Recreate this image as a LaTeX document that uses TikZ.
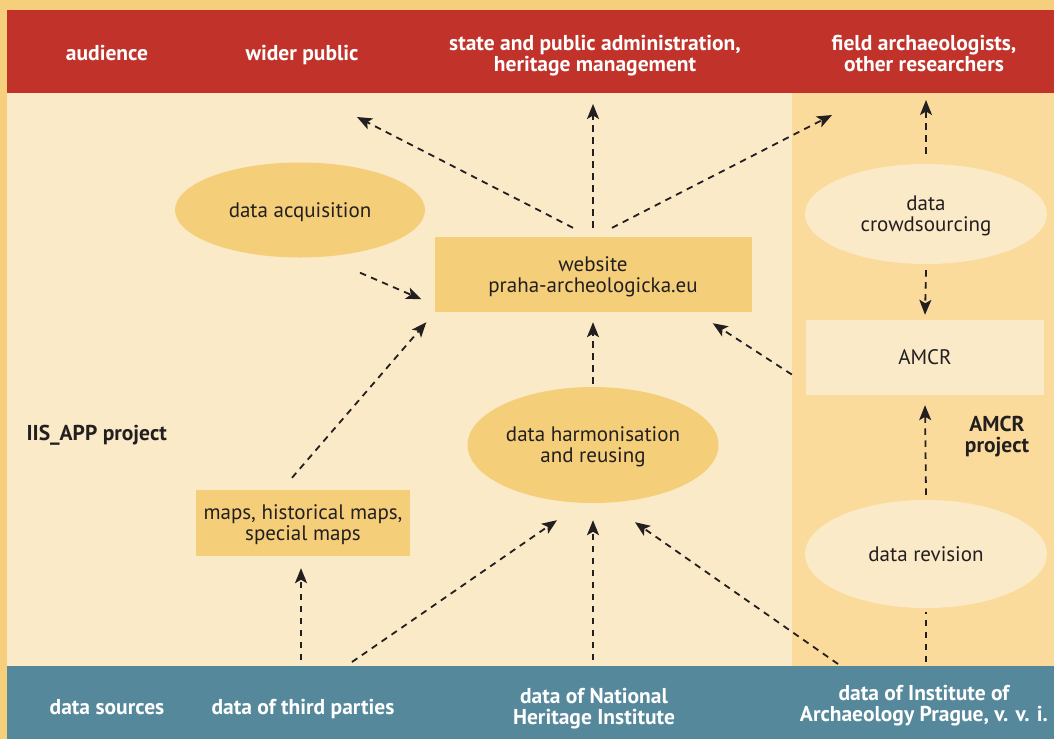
\documentclass[tikz,border=0pt]{standalone}
\usepackage{fontspec}
\setmainfont{PT Sans}
\usetikzlibrary{arrows.meta,shapes.geometric}

\definecolor{frameyellow}{HTML}{F5CF7C}
\definecolor{paper}{HTML}{FBEAC8}
\definecolor{amcrzone}{HTML}{FADB9C}
\definecolor{audred}{HTML}{C0322A}
\definecolor{srcblue}{HTML}{56889C}
\definecolor{nodeyellow}{HTML}{F4CE79}
\definecolor{ink}{HTML}{231F20}

\tikzset{
  bandtext/.style={text=white, align=center, text depth=0pt,
    font=\bfseries\fontsize{21.5}{21}\selectfont},
  projtext/.style={text=ink, align=center, font=\bfseries\fontsize{21.5}{21}\selectfont},
  blob/.style={ellipse, fill=nodeyellow, text=ink, align=center, inner sep=0pt,
    text depth=0pt, font=\fontsize{21}{21}\selectfont},
  tile/.style={rectangle, fill=nodeyellow, text=ink, align=center, inner sep=0pt,
    text depth=0pt, font=\fontsize{21}{21}\selectfont},
  flowline/.style={draw=ink, line width=1.8pt, dash pattern=on 6.5pt off 5.5pt},
  flow/.style={flowline, -{Stealth[length=15pt,width=12pt,inset=3.5pt]}}
}

\begin{document}
\begin{tikzpicture}[x=1pt,y=-1pt]
    \useasboundingbox (0,0) rectangle (1054,739);
    \fill[frameyellow] (0,0) rectangle (1054,739);
    \fill[paper] (7,10) rectangle (1054,739);
    \fill[amcrzone] (792,93) rectangle (1054,666);
    \fill[audred] (7,10) rectangle (1054,93);
    \fill[srcblue] (7,666) rectangle (1054,739);

    \node[bandtext] (aud) at (107,53) {audience};
    \node[bandtext] (pub) at (302,53) {wider public};
    \node[bandtext] (adm) at (595,53) {state and public administration,\\heritage management};
    \node[bandtext] (res) at (924,53) {field archaeologists,\\other researchers};
    \node[bandtext] (src) at (107,707) {data sources};
    \node[bandtext] (tp) at (303,707) {data of third parties};
    \node[bandtext] (nhi) at (594,706) {data of National\\Heritage Institute};
    \node[bandtext] (iap) at (924,703) {data of Institute of\\Archaeology Prague, v. v. i.};

    \node[projtext, anchor=west] (iis) at (23,435) {IIS\_APP project};
    \node[projtext] (amcrproj) at (997,437) {AMCR\\project};

    \node[blob, minimum width=250pt, minimum height=95pt] (acq) at (300,210) {data acquisition};
    \node[tile, minimum width=317pt, minimum height=75pt] (web) at (593,274.5) {website\\praha-archeologicka.eu};
    \node[blob, minimum width=251pt, minimum height=116pt] (harm) at (593,445) {data harmonisation\\and reusing};
    \node[tile, minimum width=214pt, minimum height=66pt] (maps) at (303,523) {maps, historical maps,\\special maps};
    \node[blob, fill=paper, minimum width=242pt, minimum height=100pt] (crowd) at (926,214) {data\\crowdsourcing};
    \node[tile, fill=paper, minimum width=238pt, minimum height=75pt] (amcr) at (925,357.5) {AMCR};
    \node[blob, fill=paper, minimum width=242pt, minimum height=108pt] (rev) at (926,554) {data revision};

    \coordinate (tpub) at (357,117);
    \coordinate (tadm) at (593,104);
    \coordinate (tres) at (832,115);
    \coordinate (tfield) at (926,100);
    \coordinate (stp) at (301,660);
    \coordinate (stpb) at (352,662);
    \coordinate (snhi) at (593,660);
    \coordinate (siap) at (838,664);
    \coordinate (siapb) at (926,662);

    %%%%%%%%%%%%%%%%%%%%%%%%%%%%%%%%%%%%%%%%

    \draw[flow] ([xshift=-20pt,yshift=9pt]web.north) -- (tpub);
    \draw[flow] ([yshift=9pt]web.north) -- (tadm);
    \draw[flow] ([xshift=19pt,yshift=9pt]web.north) -- (tres);
    \draw[flow] ([xshift=60pt,yshift=-15pt]acq.south) -- ([xshift=-13pt,yshift=13pt]web.south west);
    \draw[flow] ([xshift=-11pt,yshift=12pt]maps.north) -- ([xshift=-8pt,yshift=-10pt]web.south west);
    \draw[flow] ([yshift=3pt]harm.north) -- ([yshift=-10pt]web.south);
    \draw[flow] ([xshift=-14pt,yshift=-17pt]amcr.west) -- ([xshift=-39pt,yshift=-11pt]web.south east);

    \draw[flow] ([yshift=10pt]crowd.north) -- (tfield);
    \draw[flow] ([yshift=-6pt]crowd.south) -- ([yshift=5pt]amcr.north);
    \draw[flow] ([yshift=5pt]rev.north) -- ([yshift=-10pt]amcr.south);
    \draw[flowline] (siapb) -- ([yshift=-4pt]rev.south);

    \draw[flow] (stp) -- ([xshift=-2pt,yshift=-12pt]maps.south);
    \draw[flow] (stpb) -- ([xshift=-36pt,yshift=-17pt]harm.south);
    \draw[flow] (snhi) -- ([yshift=-17pt]harm.south);
    \draw[flow] (siap) -- ([xshift=42pt,yshift=-19pt]harm.south);

\end{tikzpicture}
\end{document}
